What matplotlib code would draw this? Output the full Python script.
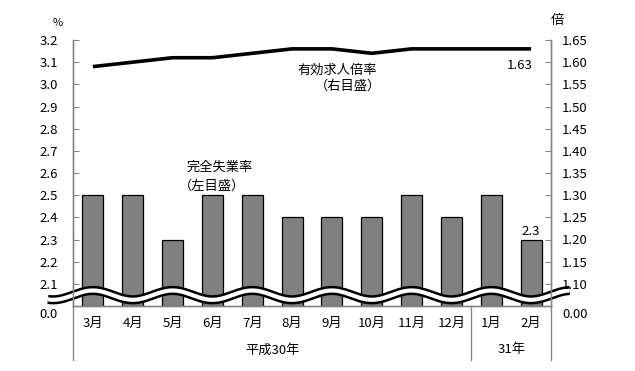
import matplotlib
matplotlib.use('Agg')
import matplotlib.pyplot as plt
import matplotlib.transforms as mtransforms
import numpy as np

plt.rcParams['font.family'] = ['Noto Sans CJK JP', 'DejaVu Sans']
plt.rcParams['font.size'] = 9.5

# データ
months = ['3月', '4月', '5月', '6月', '7月', '8月', '9月', '10月', '11月', '12月', '1月', '2月']
unemp = [2.5, 2.5, 2.3, 2.5, 2.5, 2.4, 2.4, 2.4, 2.5, 2.4, 2.5, 2.3]
ratio = [1.59, 1.60, 1.61, 1.61, 1.62, 1.63, 1.63, 1.62, 1.63, 1.63, 1.63, 1.63]
left_ticks = [2.0, 2.1, 2.2, 2.3, 2.4, 2.5, 2.6, 2.7, 2.8, 2.9, 3.0, 3.1, 3.2]
left_labels = ['0.0'] + ['%.1f' % v for v in left_ticks[1:]]
right_ticks = [1.05, 1.10, 1.15, 1.20, 1.25, 1.30, 1.35, 1.40, 1.45, 1.50, 1.55, 1.60, 1.65]
right_labels = ['0.00'] + ['%.2f' % v for v in right_ticks[1:]]
years = [('平成30年', 0, 10), ('31年', 10, 12)]

axcol = '#868686'
fig = plt.figure(figsize=(6.35, 3.71), dpi=100)
ax = fig.add_axes([73/635, 1-306/371, 478/635, 266/371])
ax2 = ax.twinx()

x = np.arange(len(months))
ax.bar(x, np.array(unemp) - 2.0, bottom=2.0, width=0.53, color='#808080',
       edgecolor='black', linewidth=0.9, zorder=2)
ax2.plot(x, ratio, color='black', lw=2.6, solid_capstyle='butt', zorder=3)

ax.set_xlim(-0.5, len(months) - 0.5)
ax.set_ylim(2.0, 3.2)
ax2.set_ylim(1.05, 1.65)
ax.set_yticks(left_ticks)
ax.set_yticklabels(left_labels)
ax2.set_yticks(right_ticks)
ax2.set_yticklabels(right_labels)
ax.set_xticks([])

for a in (ax, ax2):
    for s in a.spines.values():
        s.set_color(axcol)
        s.set_linewidth(1)
    a.spines['top'].set_visible(False)
    a.tick_params(axis='y', direction='in', length=4, color=axcol)
ax.tick_params(axis='y', pad=11)
ax2.tick_params(axis='y', pad=8)

# 0.0 / 0.00 のラベルは少し下へ
shift = mtransforms.ScaledTranslation(0, -7/100, fig.dpi_scale_trans)
for t in (ax.yaxis.get_major_ticks()[0], ax2.yaxis.get_major_ticks()[0]):
    t.label1.set_transform(t.label1.get_transform() + shift)
    t.label2.set_transform(t.label2.get_transform() + shift)

# 波線（省略記号）
wx = np.linspace(-1.13, 11.97, 400)
wy = 2.049 + 0.021 * np.cos(np.pi * wx)
ax.plot(wx, wy, color='black', lw=6.6, clip_on=False, zorder=5, solid_capstyle='butt')
ax.plot(wx, wy, color='white', lw=3.0, clip_on=False, zorder=6, solid_capstyle='butt')

# 月ラベル
for i, m in enumerate(months):
    ax.text(i, -0.065, m, transform=ax.get_xaxis_transform(), ha='center', va='center')

# 年ラベルと区切り線
low = -54 / 266
for name, s, e in years:
    ax.text((s + e - 1) / 2, -44 / 266, name, transform=ax.get_xaxis_transform(),
            ha='center', va='center')
for b in [-0.5, 9.5, 11.5]:
    ax.plot([b, b], [0, low], transform=ax.get_xaxis_transform(), color=axcol,
            lw=1, clip_on=False)

# 注記
ax.text(-0.031, 1.064, '%', transform=ax.transAxes, ha='center', va='center', fontsize=8)
ax2.text(1.0, 1.075, '倍', transform=ax2.transAxes, ha='left', va='center')
ax2.text(6.13, 1.582, '有効求人倍率', ha='center', va='center')
ax2.text(6.4, 1.546, '（右目盛）', ha='center', va='center')
ax.text(3.19, 2.625, '完全失業率', ha='center', va='center')
ax.text(3.0, 2.54, '（左目盛）', ha='center', va='center')
ax2.text(10.72, 1.593, '%.2f' % ratio[-1], ha='center', va='center')
ax.text(11, unemp[-1] + 0.005, '%.1f' % unemp[-1], ha='center', va='bottom')

fig.savefig('out.png', dpi=100)
